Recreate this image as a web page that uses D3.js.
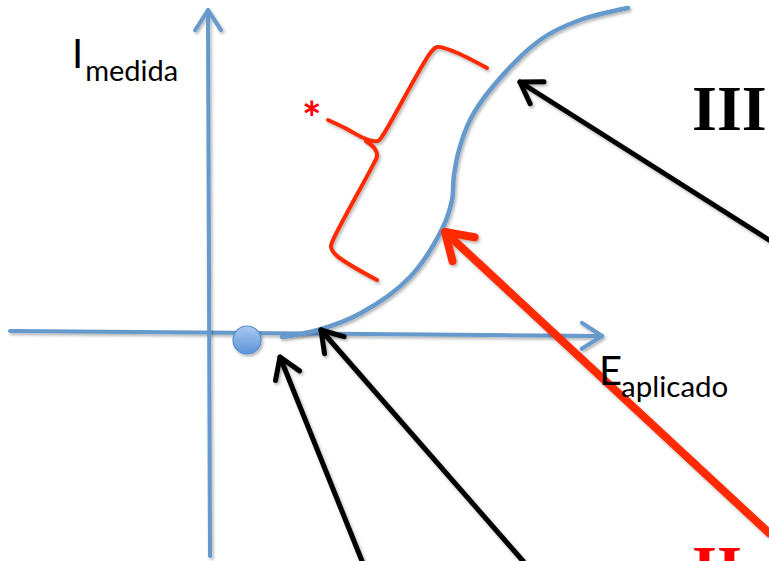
<!DOCTYPE html>
<html lang="pt">
<head>
    <meta charset="UTF-8">
    <title>I medida vs E aplicado</title>
    <script src="https://d3js.org/d3.v7.min.js"></script>
    <style>
        body { margin: 0; background: #fff; }
        .lbl { font-family: Lato, "Open Sans", sans-serif; fill: #000; }
        .roman { font-family: "Liberation Serif", "Times New Roman", serif; font-weight: bold; }
    </style>
</head>
<body>
    <svg width="769" height="561"></svg>
    <script>
        // data coords: E along x, I along y, origin where the axes cross
        const xAxisLine = [[-200, 2], [392, -3]];
        const yAxisLine = [[0, -223], [-2, 323]];
        const startPoint = [37, -7];

        // measured current curve
        const curveE = [72, 108, 151, 200, 233, 242, 244, 249, 260, 280, 330, 370, 418];
        const curveI = [-4, 3, 20, 56, 106, 133, 158, 183, 213, 243, 293, 313, 325];

        // red brace marking the wave
        const braceUpper = [[277, 265], [245, 281], [227, 286], [221, 281], [173, 198], [168, 192], [156, 194], [135, 205], [118, 213]];
        const braceLower = [[156, 192], [165, 184], [167, 177], [164, 170], [123, 93], [121, 86], [126, 78], [167, 53]];

        // pointer arrows [from, to]
        const blackArrows = [
            [[152, -228], [70, -24]],
            [[313, -228], [111, 3]],
            [[559, 93], [310, 251]]
        ];
        const redArrow = [[559, -200], [235, 101]];

        const svg = d3.select("svg");
        const x = d3.scaleLinear().domain([0, 100]).range([210, 310]);
        const y = d3.scaleLinear().domain([0, 100]).range([333, 233]);

        const defs = svg.append("defs");
        const f = defs.append("filter").attr("id", "sh").attr("x", "-20%").attr("y", "-20%")
            .attr("width", "140%").attr("height", "140%");
        f.append("feDropShadow").attr("dx", 1.5).attr("dy", 2).attr("stdDeviation", 1.5)
            .attr("flood-color", "#000").attr("flood-opacity", 0.3);
        const g = defs.append("linearGradient").attr("id", "dot").attr("x1", 0).attr("y1", 0).attr("x2", 0).attr("y2", 1);
        g.append("stop").attr("offset", "0%").attr("stop-color", "#a9c9f0");
        g.append("stop").attr("offset", "100%").attr("stop-color", "#5d93d8");

        const blue = "#6699cc";
        const line = d3.line().x(d => x(d[0])).y(d => y(d[1]));
        const smooth = d3.line().x(d => x(d[0])).y(d => y(d[1])).curve(d3.curveCatmullRom.alpha(0.5));

        function head(from, to, len, ang) {
            const x0 = x(from[0]), y0 = y(from[1]), x1 = x(to[0]), y1 = y(to[1]);
            const a = Math.atan2(y0 - y1, x0 - x1);
            const p1 = [x1 + len * Math.cos(a + ang), y1 + len * Math.sin(a + ang)];
            const p2 = [x1 + len * Math.cos(a - ang), y1 + len * Math.sin(a - ang)];
            return `M${p1}L${x1},${y1}L${p2}`;
        }

        function arrow(a, color, w, len) {
            const grp = svg.append("g").attr("filter", "url(#sh)")
                .attr("fill", "none").attr("stroke", color).attr("stroke-width", w)
                .attr("stroke-linecap", "round").attr("stroke-linejoin", "round");
            grp.append("path").attr("d", line(a));
            grp.append("path").attr("d", head(a[0], a[1], len, Math.PI / 5.5));
        }

        // axes
        arrow(xAxisLine, blue, 4, 24);
        arrow(yAxisLine, blue, 4, 24);

        // curve
        svg.append("path")
            .attr("d", smooth(curveE.map((e, i) => [e, curveI[i]])))
            .attr("fill", "none").attr("stroke", blue).attr("stroke-width", 4.5)
            .attr("stroke-linecap", "round").attr("filter", "url(#sh)");

        svg.append("circle")
            .attr("cx", x(startPoint[0])).attr("cy", y(startPoint[1])).attr("r", 14)
            .attr("fill", "url(#dot)").attr("stroke", "#5a8ccc").attr("stroke-width", 1.2)
            .attr("filter", "url(#sh)");

        // brace
        [braceUpper, braceLower].forEach(b => {
            svg.append("path").attr("d", smooth(b))
                .attr("fill", "none").attr("stroke", "#ff2a00").attr("stroke-width", 4)
                .attr("stroke-linecap", "round").attr("stroke-linejoin", "round")
                .attr("filter", "url(#sh)");
        });

        blackArrows.forEach(a => arrow(a, "#000", 5, 24));
        arrow(redArrow, "#ff2a00", 8, 30);

        // labels
        const lab = svg.append("text").attr("class", "lbl").attr("x", 72).attr("y", 68).attr("font-size", 40);
        lab.append("tspan").text("I");
        lab.append("tspan").attr("font-size", 29).attr("dy", 13).attr("dx", 2).text("medida");

        const lab2 = svg.append("text").attr("class", "lbl").attr("x", 599).attr("y", 385).attr("font-size", 40);
        lab2.append("tspan").text("E");
        lab2.append("tspan").attr("font-size", 29.5).attr("dy", 12).attr("dx", -1).text("aplicado");

        svg.append("text").attr("class", "lbl").attr("x", 302).attr("y", 135)
            .attr("font-size", 46).attr("font-weight", "bold").style("fill", "#ff0000").text("*");

        svg.append("text").attr("class", "roman").attr("x", 692).attr("y", 130)
            .attr("font-size", 64).attr("fill", "#000").text("III");
        svg.append("text").attr("class", "roman").attr("x", 692).attr("y", 590)
            .attr("font-size", 64).attr("fill", "#ff0000").text("II");
    </script>
</body>
</html>
